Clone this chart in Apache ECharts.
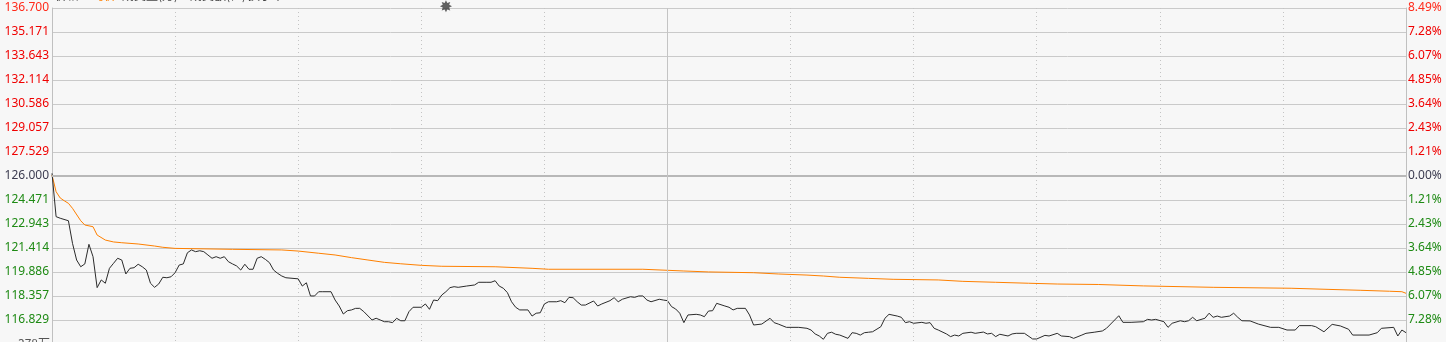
<!DOCTYPE html>
<html><head><meta charset="utf-8">
<script src="https://cdn.jsdelivr.net/npm/echarts@6/dist/echarts.min.js"></script>
<style>html,body{margin:0;padding:0;background:#f7f7f7;}#c{width:1446px;height:342px;}</style>
</head><body><div id="c"></div>
<script>
const prevClose = 126.0;
const leftTickLabels = ['136.700','135.171','133.643','132.114','130.586','129.057','127.529','126.000','124.471','122.943','121.414','119.886','118.357','116.829','115.300'];
const rightTickLabels = ['8.49%','7.28%','6.07%','4.85%','3.64%','2.43%','1.21%','0.00%','1.21%','2.43%','3.64%','4.85%','6.07%','7.28%','8.49%'];
const sessionMinutes = 330;
const sessionBreak = 150;
const priceMinutes = [0,1,2,4,5,6,7,8,9,10,11,12,13,14,15,16,17,18,19,20,21,22,23,24,25,26,27,28,29,30,31,32,33,34,35,36,37,38,39,40,41,42,43,44,45,46,47,48,49,50,51,52,53,54,55,56,57,60,61,62,63,64,65,66,68,69,70,71,72,73,74,75,76,78,79,80,81,82,83,84,85,86,87,88,90,91,92,93,94,95,96,97,98,99,101,103,104,106,107,108,109,110,111,112,113,114,116,117,118,119,120,121,123,124,125,126,127,128,129,130,132,133,134,136,137,138,139,141,142,143,144,145,146,148,149,150,151,152,153,154,155,157,158,159,160,161,162,164,165,166,167,169,170,171,173,175,176,177,179,182,184,185,186,187,188,189,190,191,192,194,195,196,197,198,199,200,202,203,204,206,207,208,209,210,212,213,214,215,216,218,219,220,221,222,224,225,227,228,229,230,231,233,234,235,237,239,240,242,243,245,246,248,249,251,252,254,256,257,259,260,261,263,266,267,268,269,271,272,273,275,276,277,278,279,281,282,283,284,285,287,288,289,290,292,294,297,299,301,303,304,307,308,310,312,314,316,317,321,323,324,327,328,329,330];
const prices = [126.17,123.41,123.31,123.15,121.71,120.65,120.22,120.40,121.65,120.86,118.89,119.38,119.17,120.12,120.44,120.76,120.65,119.76,120.12,120.16,120.38,120.22,120.01,119.17,118.91,119.12,119.55,119.52,119.58,119.84,120.33,120.40,121.11,121.29,121.18,121.24,121.18,120.97,120.76,120.86,120.76,120.86,120.54,120.40,120.27,120.01,120.38,120.06,120.06,120.76,120.86,120.69,120.48,120.01,119.80,119.63,119.52,119.45,118.99,119.20,118.36,118.36,118.63,118.63,118.63,118.10,117.72,117.21,117.42,117.47,117.57,117.57,117.36,116.83,116.94,116.83,116.72,116.72,116.66,116.94,116.78,116.78,117.36,117.64,117.64,117.85,117.51,118.10,118.06,118.42,118.63,118.89,118.95,118.91,118.99,119.06,119.23,119.23,119.23,119.33,118.99,118.85,118.57,117.99,117.64,117.47,117.47,117.08,117.26,117.29,117.85,117.99,117.99,118.06,117.93,118.27,118.25,117.99,117.78,117.78,118.04,117.72,117.85,118.06,118.25,117.99,118.15,118.31,118.27,118.36,118.36,118.10,117.99,118.15,118.10,118.06,117.68,117.53,117.26,116.66,117.15,117.19,117.15,117.04,117.40,117.42,117.89,117.72,117.64,117.47,117.57,117.57,117.15,116.51,116.57,116.94,116.66,116.57,116.36,116.36,116.30,116.19,115.94,115.81,115.60,115.98,116.05,115.92,115.87,115.66,116.02,115.98,115.87,116.02,116.05,116.08,116.40,116.94,117.19,117.08,117.00,116.66,116.72,116.62,116.68,116.62,116.66,116.30,116.19,115.94,115.77,115.87,115.81,115.98,116.05,115.98,116.06,115.94,115.98,115.77,115.92,115.81,115.94,115.98,115.98,115.62,115.62,115.85,115.81,115.98,115.81,115.77,115.66,115.87,115.98,116.05,116.13,116.30,116.83,117.10,116.68,116.68,116.72,116.87,116.83,116.87,116.72,116.36,116.62,116.78,116.72,116.78,117.00,116.78,116.94,117.26,117.00,117.08,117.00,117.08,117.26,117.00,116.78,116.77,116.57,116.36,116.36,116.19,116.19,116.47,116.47,116.40,116.08,116.55,116.45,116.24,115.87,115.87,116.02,116.30,116.36,115.81,116.19,116.02];
const avgMinutes = [0,1,2,3,4,5,7,8,10,11,13,15,17,21,25,27,30,44,56,60,65,69,73,77,81,85,90,95,108,117,121,144,154,160,171,177,184,188,192,199,205,216,222,230,238,245,255,266,283,302,311,319,326,329,330];
const avgPrices = [126.06,125.00,124.60,124.42,124.26,123.94,123.15,122.88,122.77,122.24,121.92,121.80,121.75,121.67,121.54,121.46,121.39,121.33,121.29,121.22,121.08,120.97,120.80,120.65,120.50,120.41,120.31,120.25,120.22,120.12,120.06,120.06,119.95,119.89,119.84,119.76,119.69,119.63,119.55,119.48,119.42,119.38,119.29,119.23,119.17,119.12,119.09,119.00,118.91,118.85,118.78,118.72,118.66,118.63,118.53];
const eventMarkers = [[96, 136.7]];
const headerTexts = [['价格', '#444'], ['均价', '#ff8000'], ['成交量(万)', '#444'], ['成交额(亿)', '#444'], ['换手率%', '#444']];
const volumeLabel = '378万';

const tickVals = leftTickLabels.map(Number);
const yMin = Math.min.apply(null, tickVals), yMax = Math.max.apply(null, tickVals);
function idxOf(v){let b=0,d=1e9;tickVals.forEach((t,i)=>{const dd=Math.abs(t-v);if(dd<d){d=dd;b=i;}});return b;}
function labelColor(v){v=Number(v); if (Math.abs(v-prevClose)<1e-6) return '#3c3c50'; if (v>prevClose) return v>=yMax-1e-6?'#ff2a1a':'#f00000'; return '#1e8a14';}
const font = '"Noto Sans", sans-serif';
const lastIdx = leftTickLabels.length - 1;

const chart = echarts.init(document.getElementById('c'), null, {renderer:'canvas'});
const hx = [55, 92, 122, 190, 248];
chart.setOption({
  backgroundColor: '#f7f7f7',
  animation: false,
  grid: {left: 52, right: 40, top: 8, height: 336, containLabel: false, outerBoundsMode: 'none'},
  xAxis: {type: 'value', min: 0, max: sessionMinutes, interval: 30,
    axisLine: {show: false}, axisTick: {show: false}, axisLabel: {show: false},
    splitLine: {show: true, lineStyle: {color: '#c4c4c4', type: [1, 3], width: 1}}},
  yAxis: [
    {type: 'value', position: 'left', min: yMin, max: yMax,
      axisLine: {show: true, lineStyle: {color: '#c0c0c0'}},
      axisTick: {show: false, customValues: tickVals},
      axisLabel: {customValues: tickVals, margin: 3, fontSize: 12, fontFamily: font,
        formatter: v => { const i = idxOf(v); return i === lastIdx ? '' : leftTickLabels[i]; }, color: v => labelColor(v)},
      splitLine: {show: true, lineStyle: {color: '#cacaca', width: 1}}},
    {type: 'value', position: 'right', min: yMin, max: yMax,
      axisLine: {show: true, lineStyle: {color: '#c0c0c0'}},
      axisTick: {show: false, customValues: tickVals},
      axisLabel: {customValues: tickVals, margin: 2, fontSize: 12, fontFamily: font,
        formatter: v => { const i = idxOf(v); return i === lastIdx ? '' : rightTickLabels[i]; }, color: v => labelColor(v)},
      splitLine: {show: false}}
  ],
  series: [
    {type: 'line', name: '均价', data: avgMinutes.map((m,i)=>[m, avgPrices[i]]), showSymbol: false,
      lineStyle: {color: '#ff8000', width: 1}, itemStyle: {color: '#ff8000'}, z: 3,
      markLine: {silent: true, symbol: 'none', label: {show: false},
        data: [{yAxis: prevClose, lineStyle: {color: '#b8b8b8', width: 2, type: 'solid'}},
               {xAxis: sessionBreak, lineStyle: {color: '#c4c4c4', width: 1, type: 'solid'}}]}},
    {type: 'line', name: '价格', data: priceMinutes.map((m,i)=>[m, prices[i]]), showSymbol: false,
      lineStyle: {color: '#2b2b2b', width: 1}, itemStyle: {color: '#2b2b2b'}, z: 4},
    {type: 'scatter', data: eventMarkers, symbol: 'circle', symbolSize: 1, itemStyle: {color: 'rgba(0,0,0,0)'},
      label: {show: true, position: 'inside', formatter: '✸', fontSize: 16, color: '#3a3a3a', fontFamily: 'DejaVu Sans'}, z: 5}
  ],
  graphic: headerTexts.map((h,i)=>({type: 'text', left: hx[i], top: -11, style: {text: h[0], fill: h[1], font: '12px "Noto Sans CJK SC"'}}))
    .concat([{type: 'text', right: 1396, top: 337, style: {text: volumeLabel, fill: '#555', font: '12px "Noto Sans CJK SC"', align: 'right'}}])
});
</script></body></html>
